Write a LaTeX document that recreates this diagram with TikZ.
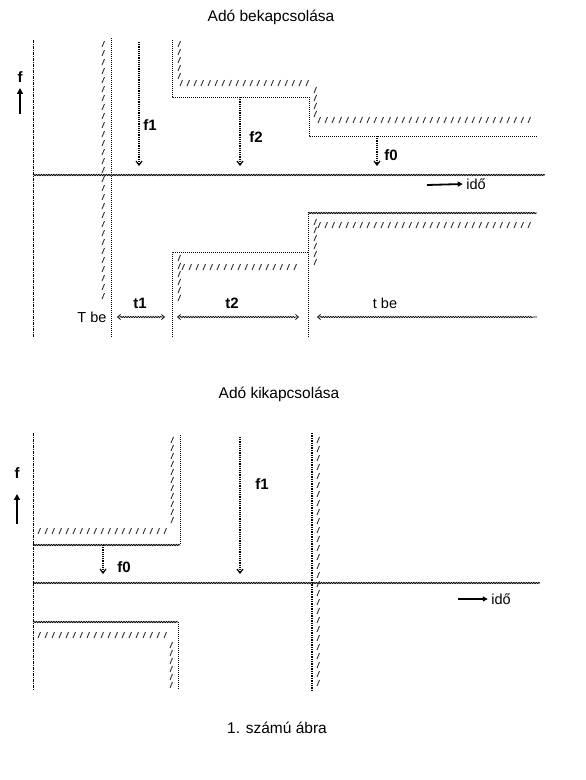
\documentclass[tikz,border=0pt]{standalone}
\usepackage{fontspec}
\setmainfont{Liberation Sans}
\usetikzlibrary{arrows.meta,decorations.pathmorphing}
\tikzset{
  titletext/.style={font=\fontsize{15.5}{18}\selectfont},
  flabel/.style={font=\fontsize{15}{17}\selectfont\bfseries},
  tlabel/.style={font=\fontsize{14.5}{17}\selectfont},
  edgeline/.style={densely dotted, line width=1pt},
  axisline/.style={line width=0.9pt, decorate, decoration={snake, amplitude=0.6pt, segment length=2.5pt}},
  sideline/.style={line width=0.9pt, dash pattern=on 3pt off 1pt on 1pt off 1pt},
  hatchmark/.style={line width=0.9pt, black!80},
  freqarrow/.style={line width=1.2pt, densely dotted, -{Straight Barb[length=4pt,width=6pt]}},
  uparrow/.style={line width=2pt, -{Triangle[length=6pt,width=6pt]}},
  timearrow/.style={line width=1.2pt, -{Triangle[length=5pt,width=5pt]}},
  spanarrow/.style={line width=0.7pt, decorate, decoration={snake, amplitude=0.6pt, segment length=2.5pt, pre length=3pt, post length=3pt}}
}

\begin{document}
\begin{tikzpicture}[x=1pt, y=-1pt]
  \useasboundingbox (0,0) rectangle (586,780);

  % Adó bekapcsolása
  \node[titletext] (titleon) at (271,17) {Adó bekapcsolása};
  \draw[sideline] (33,40) -- (33,337);
  \node[flabel] (fon) at (20,77) {f};
  \coordinate (fonlow) at (20,114);
  \draw[uparrow] (fonlow) -- ([yshift=-2pt]fon.south);
  \draw[axisline] (33,175) -- (545,175);

  % switch-on instant
  \draw[edgeline] (111,38) -- (111,337);
  \foreach \y in {44,53,...,300} \draw[hatchmark] (102,\y+3) -- ++(2.5,-6);

  \coordinate (f1top) at (139,42);
  \coordinate (f1end) at (139,166);
  \draw[freqarrow] (f1top) -- (f1end);
  \node[flabel] (f1on) at (150,125) {f1};

  % upper steps
  \draw[edgeline] (172,40) -- (172,97) -- (309,97) -- (309,136) -- (537,136);
  \foreach \y in {44,52,...,76} \draw[hatchmark] (178,\y+3) -- ++(2.5,-6);
  \foreach \x in {180,187,...,312} \draw[hatchmark] (\x,86) -- ++(2.5,-6);
  \foreach \y in {90,98,...,116} \draw[hatchmark] (314,\y+3) -- ++(2.5,-6);
  \foreach \x in {318,325,...,534} \draw[hatchmark] (\x,123) -- ++(2.5,-6);

  \coordinate (f2top) at (240,97);
  \coordinate (f2end) at (240,166);
  \draw[freqarrow] (f2top) -- (f2end);
  \node[flabel] (f2on) at (256,137) {f2};

  \coordinate (f0top) at (377,136);
  \coordinate (f0end) at (377,166);
  \draw[freqarrow] (f0top) -- (f0end);
  \node[flabel] (f0on) at (391,155) {f0};

  \node[tlabel] (idoon) at (476,184) {idő};
  \coordinate (idoontail) at (427,185);
  \draw[timearrow, line width=1.8pt] (idoontail) -- (idoon.west);

  % lower steps
  \draw[edgeline] (172,337) -- (172,252) -- (308,252);
  \draw[edgeline] (308,337) -- (308,213);
  \draw[axisline] (308,213) -- (537,213);
  \foreach \y in {258,266,...,298} \draw[hatchmark] (178,\y+3) -- ++(2.5,-6);
  \foreach \x in {182,189,...,300} \draw[hatchmark] (\x,270) -- ++(2.5,-6);
  \foreach \y in {222,230,...,262} \draw[hatchmark] (314,\y+3) -- ++(2.5,-6);
  \foreach \x in {318,325,...,534} \draw[hatchmark] (\x,228) -- ++(2.5,-6);

  % durations
  \node[tlabel] (Tbe) at (92,317) {T be};
  \node[flabel] (t1) at (140,303) {t1};
  \node[flabel] (t2) at (232,303) {t2};
  \node[tlabel] (tbe) at (385,303) {t be};
  \coordinate (t1a) at (117,317);
  \coordinate (t1b) at (165,317);
  \coordinate (t2a) at (177,317);
  \coordinate (t2b) at (299,317);
  \coordinate (tbea) at (317,317);
  \coordinate (tbeb) at (537,317);
  \draw[spanarrow, {Straight Barb[length=3pt,width=5pt]}-{Straight Barb[length=3pt,width=5pt]}] (t1a) -- (t1b);
  \draw[spanarrow, {Straight Barb[length=3pt,width=5pt]}-{Straight Barb[length=3pt,width=5pt]}] (t2a) -- (t2b);
  \draw[spanarrow, {Straight Barb[length=3pt,width=5pt]}-] (tbea) -- (tbeb);

  % Adó kikapcsolása
  \node[titletext] (titleoff) at (279,394) {Adó kikapcsolása};
  \draw[sideline] (33,433) -- (33,690);
  \node[flabel] (foff) at (17,473) {f};
  \coordinate (fofflow) at (17,524);
  \draw[uparrow] (fofflow) -- ([yshift=-12pt]foff.south);
  \draw[axisline] (33,583) -- (540,583);

  % upper-left block
  \draw[edgeline] (180,435) -- (180,545);
  \draw[axisline] (33,545) -- (180,545);
  \foreach \y in {440,448,...,520} \draw[hatchmark] (171,\y+3) -- ++(2.5,-6);
  \foreach \x in {38,45,...,168} \draw[hatchmark] (\x,534) -- ++(2.5,-6);

  \coordinate (f0offtop) at (103,545);
  \coordinate (f0offend) at (103,574);
  \draw[freqarrow] (f0offtop) -- (f0offend);
  \node[flabel] (f0off) at (124,567) {f0};

  \coordinate (f1offtop) at (240,437);
  \coordinate (f1offend) at (240,574);
  \draw[freqarrow] (f1offtop) -- (f1offend);
  \node[flabel] (f1off) at (262,484) {f1};

  % switch-off instant
  \draw[edgeline, line width=1.4pt] (312,433) -- (312,690);
  \foreach \y in {440,449,...,686} \draw[hatchmark] (317,\y+3) -- ++(2.5,-6);

  \node[tlabel] (idooff) at (501,599) {idő};
  \coordinate (idoofftail) at (458,599);
  \draw[timearrow] (idoofftail) -- (idooff.west);

  % lower-left block
  \draw[axisline] (33,622) -- (178,622);
  \draw[edgeline] (178,622) -- (178,690);
  \foreach \x in {38,45,...,168} \draw[hatchmark] (\x,638) -- ++(2.5,-6);
  \foreach \y in {645,653,...,685} \draw[hatchmark] (170,\y+3) -- ++(2.5,-6);

  \node[titletext] (caption) at (277,728) {1. számú ábra};
\end{tikzpicture}
\end{document}
